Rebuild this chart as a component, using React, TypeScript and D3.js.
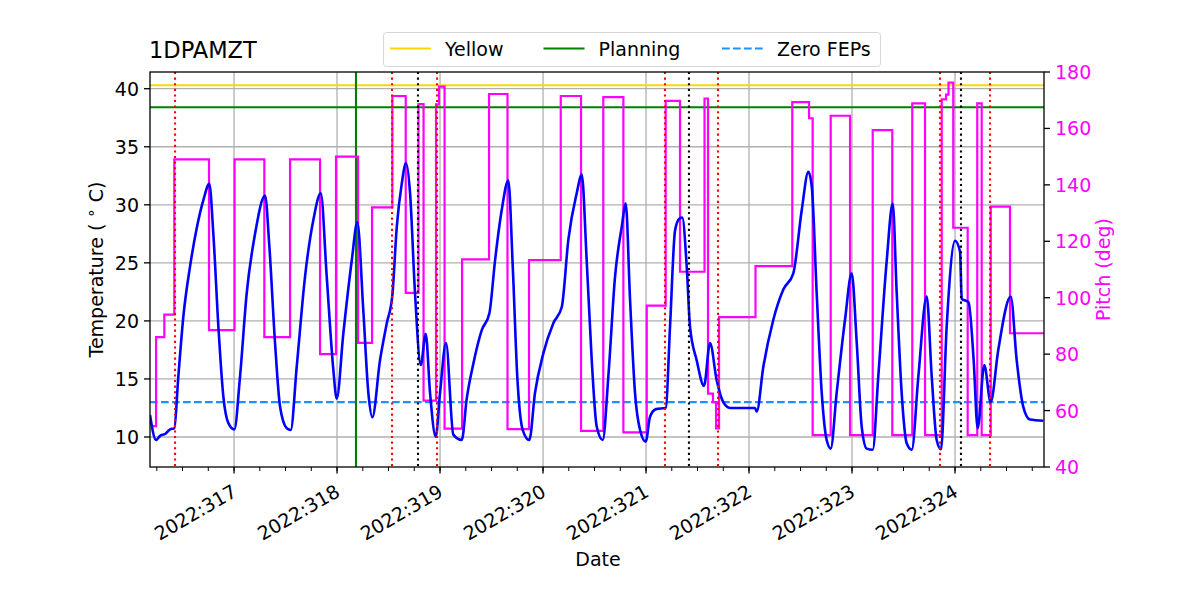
import React from "react";
import * as d3 from "d3";

// 1DPAMZT temperature (degC) against day of year 2022
const tempPoints: [number, number][] = [
  [316.184, 11.9], [316.243, 9.74], [316.282, 10.1], [316.33, 10.26], [316.379, 10.66],
  [316.42, 10.75], [316.459, 15.2], [316.508, 20.4], [316.573, 24.7], [316.638, 28.0],
  [316.702, 30.4], [316.76, 31.8], [316.799, 27.5], [316.848, 19.5], [316.896, 13.5],
  [316.945, 11.2], [317.003, 10.66], [317.058, 15.2], [317.123, 22.4], [317.204, 27.5],
  [317.301, 30.8], [317.343, 26.4], [317.398, 18.1], [317.447, 12.6], [317.512, 10.75],
  [317.55, 10.6], [317.609, 16.1], [317.689, 23.8], [317.77, 28.7], [317.842, 31.0],
  [317.9, 23.8], [317.964, 15.8], [317.997, 13.3], [318.061, 18.9], [318.143, 25.2],
  [318.197, 28.5], [318.255, 20.9], [318.304, 13.8], [318.343, 11.7], [318.417, 16.6],
  [318.483, 19.8], [318.537, 22.2], [318.58, 28.1], [318.628, 31.8], [318.67, 33.6],
  [318.709, 31.0], [318.757, 22.4], [318.813, 16.2], [318.861, 18.9], [318.903, 13.8],
  [318.958, 10.03], [319.0, 13.8], [319.058, 18.1], [319.129, 10.2], [319.211, 9.74],
  [319.259, 13.3], [319.323, 16.3], [319.405, 19.2], [319.479, 20.65], [319.534, 25.2],
  [319.599, 29.55], [319.663, 32.1], [319.706, 24.7], [319.75, 15.2], [319.803, 10.6],
  [319.867, 9.74], [319.922, 13.8], [320.003, 17.2], [320.1, 19.8], [320.182, 21.2],
  [320.246, 27.0], [320.327, 31.0], [320.376, 32.6], [320.424, 25.2], [320.473, 16.6],
  [320.521, 10.9], [320.58, 9.74], [320.634, 15.2], [320.699, 23.8], [320.764, 28.1],
  [320.803, 30.1], [320.845, 21.8], [320.893, 13.8], [320.942, 10.6], [320.997, 9.6],
  [321.039, 11.75], [321.097, 12.4], [321.191, 12.5], [321.233, 19.5], [321.282, 27.8],
  [321.323, 28.8], [321.352, 28.9], [321.395, 24.7], [321.427, 19.5], [321.492, 16.6],
  [321.563, 14.4], [321.621, 18.1], [321.686, 14.9], [321.75, 13.0], [321.816, 12.5],
  [321.913, 12.5], [322.058, 12.5], [322.075, 12.2], [322.139, 16.05], [322.236, 20.1],
  [322.333, 22.7], [322.43, 24.1], [322.512, 29.55], [322.576, 32.85], [322.609, 31.6],
  [322.657, 22.4], [322.706, 13.8], [322.754, 9.74], [322.793, 9.0], [322.851, 13.8],
  [322.932, 20.1], [322.997, 24.1], [323.046, 18.1], [323.094, 10.9], [323.143, 9.0],
  [323.201, 8.9], [323.255, 15.2], [323.337, 25.2], [323.395, 30.1], [323.434, 22.4],
  [323.482, 13.8], [323.531, 9.46], [323.58, 8.9], [323.644, 15.2], [323.725, 22.1],
  [323.774, 15.2], [323.822, 9.74], [323.864, 8.94], [323.919, 19.5], [324.0, 26.9],
  [324.049, 25.96], [324.065, 21.9], [324.132, 21.6], [324.181, 16.6], [324.22, 10.75],
  [324.284, 16.2], [324.346, 13.0], [324.42, 17.5], [324.541, 22.1], [324.599, 16.6],
  [324.663, 12.6], [324.728, 11.5], [324.857, 11.4],
];

// pitch (deg): each entry is the time a new attitude starts
const pitchPoints: [number, number][] = [
  [316.194, 54.5], [316.243, 86], [316.323, 94], [316.42, 149], [316.757, 88.5],
  [317.005, 149], [317.294, 86], [317.544, 149], [317.835, 80], [317.99, 150],
  [318.204, 84], [318.34, 132], [318.537, 171.5], [318.667, 101.7], [318.791, 168.6],
  [318.84, 63.5], [318.961, 168.5], [318.99, 174.8], [319.044, 53.6], [319.214, 113.6],
  [319.476, 172.2], [319.655, 53.4], [319.864, 113.3], [320.172, 171.5], [320.369, 52.8],
  [320.585, 171.1], [320.78, 52.3], [321.007, 97.2], [321.191, 169.8], [321.33, 109.2],
  [321.568, 170.6], [321.602, 66], [321.65, 63], [321.68, 53.7], [321.709, 93.1],
  [322.063, 111.2], [322.42, 169.3], [322.583, 163.6], [322.618, 51.3], [322.793, 164.5],
  [322.981, 51.3], [323.201, 159.4], [323.391, 51.3], [323.585, 168.9], [323.709, 51.3],
  [323.871, 170.3], [323.913, 172], [323.937, 176.2], [323.983, 124.8], [324.123, 51.3],
  [324.216, 168.9], [324.259, 51.3], [324.347, 132.3], [324.534, 87.4], [324.864, 87.4],
];

const dayTicks = [317, 318, 319, 320, 321, 322, 323, 324];
const tempTicks = [10, 15, 20, 25, 30, 35, 40];
const pitchTicks = [40, 60, 80, 100, 120, 140, 160, 180];

const yellowLimit = 40.3;
const planningLimit = 38.4;
const zeroFepsLimit = 13.0;
const planningTime = 318.184;
const redTimes = [316.427, 318.534, 318.971, 321.184, 321.699, 323.854, 324.34];
const blackTimes = [318.786, 321.417, 324.058];

const legendItems = [
  { label: "Yellow", color: "#ffd700", dash: "" },
  { label: "Planning", color: "#008000", dash: "" },
  { label: "Zero FEPs", color: "#1e90ff", dash: "7.7,3.3" },
];

const W = 1200;
const H = 600;
const left = 150;
const right = 1044;
const top = 72;
const bottom = 467;
const font = "DejaVu Sans, sans-serif";
const fs = 19;

const App: React.FC = () => {
  const x = d3.scaleLinear().domain([316.184, 324.864]).range([left, right]);
  const yT = d3.scaleLinear().domain([7.416, 41.44]).range([bottom, top]);
  const yP = d3.scaleLinear().domain([40, 180]).range([bottom, top]);

  const tempLine = d3
    .line<[number, number]>()
    .x((d) => x(d[0]))
    .y((d) => yT(d[1]))
    .curve(d3.curveMonotoneX);

  const pitchLine = d3
    .line<[number, number]>()
    .x((d) => x(d[0]))
    .y((d) => yP(d[1]))
    .curve(d3.curveStepAfter);

  const minorTicks = d3.range(316.25, 324.9, 0.25).filter((d) => d <= 324.864);

  return (
    <svg width={W} height={H} style={{ position: "absolute", left: 0, top: 0, background: "#fff" }}>
      <defs>
        <clipPath id="plot">
          <rect x={left} y={top} width={right - left} height={bottom - top} />
        </clipPath>
      </defs>

      {/* grid */}
      <g stroke="#b0b0b0" strokeWidth={1.3}>
        {dayTicks.map((d) => (
          <line key={"gx" + d} x1={x(d)} x2={x(d)} y1={top} y2={bottom} />
        ))}
        {tempTicks.map((t) => (
          <line key={"gy" + t} x1={left} x2={right} y1={yT(t)} y2={yT(t)} />
        ))}
      </g>

      <g clipPath="url(#plot)" fill="none">
        <line x1={left} x2={right} y1={yT(yellowLimit)} y2={yT(yellowLimit)} stroke="#ffd700" strokeWidth={2.1} />
        <line x1={left} x2={right} y1={yT(planningLimit)} y2={yT(planningLimit)} stroke="#008000" strokeWidth={2.1} />
        <line x1={left} x2={right} y1={yT(zeroFepsLimit)} y2={yT(zeroFepsLimit)} stroke="#1e90ff" strokeWidth={2.1} strokeDasharray="7.7,3.3" />
        <line x1={x(planningTime)} x2={x(planningTime)} y1={top} y2={bottom} stroke="#008000" strokeWidth={2.1} />
        <path d={pitchLine(pitchPoints) || ""} stroke="#ff00ff" strokeWidth={2.2} />
        <path d={tempLine(tempPoints) || ""} stroke="#0000ff" strokeWidth={2.6} />
        {redTimes.map((t) => (
          <line key={"r" + t} x1={x(t)} x2={x(t)} y1={top} y2={bottom} stroke="#ff0000" strokeWidth={2.1} strokeDasharray="2.1,3.5" />
        ))}
        {blackTimes.map((t) => (
          <line key={"k" + t} x1={x(t)} x2={x(t)} y1={top} y2={bottom} stroke="#000" strokeWidth={2.1} strokeDasharray="2.1,3.5" />
        ))}
      </g>

      {/* frame */}
      <rect x={left} y={top} width={right - left} height={bottom - top} fill="none" stroke="#000" strokeWidth={1.3} />

      {/* x axis */}
      <g fontFamily={font} fontSize={fs} fill="#000">
        {minorTicks.map((d) => (
          <line key={"mt" + d} x1={x(d)} x2={x(d)} y1={bottom} y2={bottom + 4} stroke="#000" strokeWidth={1} />
        ))}
        {dayTicks.map((d) => (
          <g key={"xt" + d}>
            <line x1={x(d)} x2={x(d)} y1={bottom} y2={bottom + 6.5} stroke="#000" strokeWidth={1.3} />
            <text
              transform={`translate(${x(d) - 3},${bottom + 16}) rotate(-30)`}
              textAnchor="end"
              dominantBaseline="hanging"
            >
              {`2022:${d}`}
            </text>
          </g>
        ))}
        <text x={598} y={566} textAnchor="middle">Date</text>
      </g>

      {/* left axis */}
      <g fontFamily={font} fontSize={fs} fill="#000">
        {tempTicks.map((t) => (
          <g key={"yt" + t}>
            <line x1={left - 6} x2={left} y1={yT(t)} y2={yT(t)} stroke="#000" strokeWidth={1.3} />
            <text x={left - 11} y={yT(t)} textAnchor="end" dominantBaseline="central">{t}</text>
          </g>
        ))}
        <text transform={`translate(103,${(top + bottom) / 2}) rotate(-90)`} textAnchor="middle">
          Temperature ( <tspan dy={-7} fontSize={15}>∘</tspan><tspan dy={7}> C)</tspan>
        </text>
      </g>

      {/* right axis */}
      <g fontFamily={font} fontSize={fs} fill="#ff00ff">
        {pitchTicks.map((p) => (
          <g key={"pt" + p}>
            <line x1={right} x2={right + 6} y1={yP(p)} y2={yP(p)} stroke="#000" strokeWidth={1.3} />
            <text x={right + 11} y={yP(p)} dominantBaseline="central">{p}</text>
          </g>
        ))}
        <text transform={`translate(1110,${(top + bottom) / 2}) rotate(-90)`} textAnchor="middle">Pitch (deg)</text>
      </g>

      {/* title */}
      <text x={149} y={58} fontFamily={font} fontSize={22.5} fill="#000">1DPAMZT</text>

      {/* legend */}
      <g fontFamily={font} fontSize={fs}>
        <rect x={383.5} y={32.5} width={497} height={34} rx={3} fill="#fff" fillOpacity={0.8} stroke="#d6d6d6" />
        {legendItems.map((it, i) => {
          const lx = [390, 543.5, 722][i];
          return (
            <g key={it.label}>
              <line x1={lx} x2={lx + 41} y1={48.5} y2={48.5} stroke={it.color} strokeWidth={2.1} strokeDasharray={it.dash || undefined} />
              <text x={lx + 55} y={48.5} dominantBaseline="central" fill="#000">{it.label}</text>
            </g>
          );
        })}
      </g>
    </svg>
  );
};

export default App;
